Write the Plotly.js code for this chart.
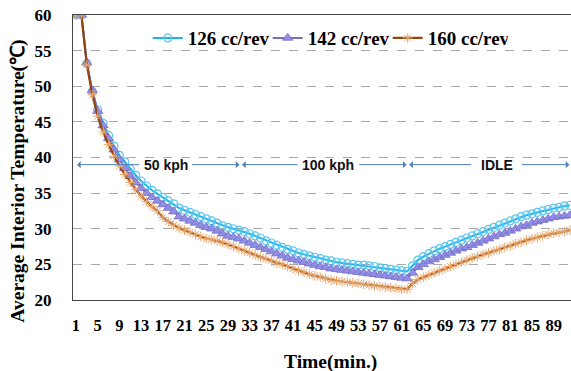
<!DOCTYPE html>
<html>
<head>
<meta charset="utf-8">
<script src="https://cdn.plot.ly/plotly-3.0.1.min.js"></script>
<style>html,body{margin:0;padding:0;background:#fff}#chart{width:571px;height:371px}</style>
</head>
<body>
<div id="chart"></div>
<script>
const minutes = [1,2,3,4,5,6,7,8,9,10,11,12,13,14,15,16,17,18,19,20,21,22,23,24,25,26,27,28,29,30,
 31,32,33,34,35,36,37,38,39,40,41,42,43,44,45,46,47,48,49,50,51,52,53,54,55,56,57,58,59,60,
 61,62,63,64,65,66,67,68,69,70,71,72,73,74,75,76,77,78,79,80,81,82,83,84,85,86,87,88,89,90,91,92];

const temp126 = [60,60,53.2,49.3,46.7,44.8,43.1,41.6,40.3,39.4,38.4,37.5,36.7,36.0,35.4,34.9,34.4,33.9,33.5,32.9,
 32.6,32.3,32.0,31.7,31.4,31.1,30.8,30.4,30.2,30.0,29.8,29.6,29.3,29.0,28.7,28.3,28.0,27.7,27.4,27.1,
 26.9,26.6,26.4,26.2,26.0,25.8,25.6,25.5,25.3,25.2,25.1,25.0,24.9,24.9,24.8,24.7,24.5,24.4,24.3,24.2,
 24.1,24.0,24.8,25.6,26.1,26.5,26.9,27.2,27.5,27.8,28.1,28.4,28.7,29.0,29.3,29.6,29.9,30.2,30.5,30.8,
 31.1,31.4,31.7,31.9,32.1,32.3,32.5,32.7,32.9,33.0,33.2,33.3];

const temp142 = [60,60,53.3,49.4,46.5,44.5,42.7,41.1,39.7,38.5,37.4,36.5,35.7,35.0,34.4,33.9,33.4,32.9,32.4,31.7,
 31.4,31.1,30.8,30.5,30.2,30.0,29.7,29.3,29.0,28.8,28.6,28.3,28.0,27.7,27.4,27.1,26.8,26.5,26.2,25.9,
 25.7,25.5,25.3,25.1,24.9,24.7,24.6,24.4,24.3,24.2,24.1,24.0,23.9,23.8,23.7,23.6,23.5,23.4,23.3,23.2,
 23.1,23.0,23.8,24.6,25.0,25.4,25.7,26.0,26.3,26.6,26.9,27.2,27.4,27.7,28.0,28.3,28.6,28.9,29.2,29.4,
 29.7,30.0,30.3,30.5,30.8,31.0,31.2,31.4,31.6,31.7,31.8,31.9];

const temp160 = [60,60,53.0,48.8,45.8,43.6,41.8,40.2,38.8,37.6,36.5,35.5,34.6,33.8,33.1,32.5,31.6,31.0,30.5,30.1,
 29.8,29.5,29.2,28.9,28.6,28.5,28.3,28.1,27.8,27.5,27.2,26.9,26.6,26.3,26.0,25.8,25.5,25.2,25.0,24.7,
 24.4,24.1,23.9,23.6,23.4,23.2,23.0,22.8,22.7,22.6,22.5,22.4,22.3,22.2,22.1,22.0,21.9,21.8,21.7,21.6,
 21.5,21.5,22.3,22.9,23.2,23.5,23.8,24.1,24.4,24.7,25.0,25.3,25.6,25.9,26.1,26.4,26.6,26.9,27.1,27.4,
 27.6,27.9,28.1,28.4,28.6,28.8,29.0,29.2,29.4,29.5,29.6,29.8];

const seriesNames = ['126 cc/rev','142 cc/rev','160 cc/rev'];
const xTickVals = [1,5,9,13,17,21,25,29,33,37,41,45,49,53,57,61,65,69,73,77,81,85,89];
const yTickVals = [20,25,30,35,40,45,50,55,60];

const phaseLabels = ['50 kph','100 kph','IDLE'];
const phaseStart = [1.2, 31.6, 62.4];
const phaseEnd = [31.1, 61.9, 91.9];
const phaseLabelX = [17.5, 47.5, 78.5];
const phaseGapHalf = [4.6, 5.4, 4.4];
const phaseY = 39;

const serif = 'Liberation Serif, Times New Roman, serif';
const sans = 'Liberation Sans, Arial, sans-serif';

const traces = [
  {x: minutes, y: temp126, name: seriesNames[0], mode: 'lines+markers', type: 'scatter',
   line: {color: '#1fb4ec', width: 2},
   marker: {symbol: 'circle-open', size: 8, color: '#5cc6f0', line: {width: 1.2, color: '#5cc6f0'}}},
  {x: minutes, y: temp142, name: seriesNames[1], mode: 'lines+markers', type: 'scatter',
   line: {color: '#7a6cc0', width: 2},
   marker: {symbol: 'triangle-up', size: 9, color: '#8e8ee6', line: {width: 0.8, color: '#7a6cc0'}}},
  {x: minutes, y: temp160, name: seriesNames[2], mode: 'lines+markers', type: 'scatter',
   line: {color: '#96440c', width: 2.2},
   marker: {symbol: 'asterisk-open', size: 8, color: '#e8a56a', line: {width: 1, color: '#e8a56a'}}}
];

const annotations = [];
for (let k = 0; k < phaseLabels.length; k++) {
  annotations.push({x: phaseLabelX[k], y: phaseY, xref: 'x', yref: 'y', text: '<b>' + phaseLabels[k] + '</b>',
    showarrow: false, font: {family: sans, size: 14, color: '#111'}});
  annotations.push({x: phaseStart[k], y: phaseY, ax: phaseLabelX[k] - phaseGapHalf[k], ay: phaseY,
    xref: 'x', yref: 'y', axref: 'x', ayref: 'y', text: '', showarrow: true,
    arrowhead: 1, arrowsize: 1.2, arrowwidth: 1, arrowcolor: '#4f81bd'});
  annotations.push({x: phaseEnd[k], y: phaseY, ax: phaseLabelX[k] + phaseGapHalf[k], ay: phaseY,
    xref: 'x', yref: 'y', axref: 'x', ayref: 'y', text: '', showarrow: true,
    arrowhead: 1, arrowsize: 1.2, arrowwidth: 1, arrowcolor: '#4f81bd'});
}
annotations.push({x: -0.110, y: 0.416, xref: 'paper', yref: 'paper', textangle: -90,
  xanchor: 'center', yanchor: 'middle',
  text: '<b>Average Interior Temperature(℃)</b>', showarrow: false,
  font: {family: serif, size: 19.5, color: '#000'}});
annotations.push({x: 0.518, y: -0.218, xref: 'paper', yref: 'paper', xanchor: 'center', yanchor: 'middle',
  text: '<b>Time(min.)</b>', showarrow: false, font: {family: serif, size: 19.5, color: '#000'}});

const layout = {
  width: 571, height: 371,
  margin: {l: 73, r: 0, t: 15, b: 71},
  paper_bgcolor: '#fff', plot_bgcolor: '#fff',
  showlegend: true,
  legend: {orientation: 'h', x: 0.15, y: 0.919, xanchor: 'left', yanchor: 'middle',
    bgcolor: 'rgba(0,0,0,0)', font: {family: serif, size: 19, color: '#000', weight: 'bold'},
    itemwidth: 30, tracegroupgap: 0, entrywidth: 75, entrywidthmode: 'pixels'},
  xaxis: {range: [0.45, 92.2], tickmode: 'array', tickvals: xTickVals, ticktext: xTickVals.map(String),
    showgrid: false, zeroline: false, showline: true, mirror: true, linecolor: '#444', linewidth: 1.2,
    ticks: '', ticklabelstandoff: 10, tickangle: 0,
    tickfont: {family: serif, size: 16.5, color: '#000', weight: 'bold'}},
  yaxis: {range: [20, 60], tickmode: 'array', tickvals: yTickVals,
    showgrid: true, gridcolor: '#a8a8a8', griddash: 'dash', gridwidth: 1,
    zeroline: false, showline: true, linecolor: '#444', linewidth: 1.2,
    ticks: '', ticklabelstandoff: 17,
    tickfont: {family: serif, size: 17, color: '#000', weight: 'bold'}},
  annotations: annotations
};

Plotly.newPlot('chart', traces, layout, {displayModeBar: false, staticPlot: true});
</script>
</body>
</html>
